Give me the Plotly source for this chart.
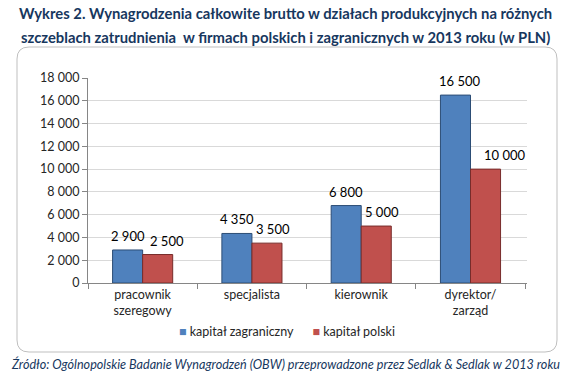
import plotly.graph_objects as go

categories = ["pracownik<br>szeregowy", "specjalista", "kierownik", "dyrektor/<br>zarząd"]
foreign = [2900, 4350, 6800, 16500]
polish = [2500, 3500, 5000, 10000]
series_names = ["kapitał zagraniczny", "kapitał polski"]
series_colors = ["#4F81BD", "#C0504D"]
title_lines = [
    "Wykres 2. Wynagrodzenia całkowite brutto w działach produkcyjnych na różnych",
    "szczeblach zatrudnienia  w firmach polskich i zagranicznych w 2013 roku (w PLN)",
]
source = "Źródło: Ogólnopolskie Badanie Wynagrodzeń (OBW) przeprowadzone przez Sedlak & Sedlak w 2013 roku"

def fmt(v):
    return f"{v:,}".replace(",", " ")

W, H = 570, 372
L, R, T, B = 88, 43, 78, 89
pw, ph = W - L - R, H - T - B

def px(x):
    return (x - L) / pw

def py(y):
    return (H - B - y) / ph

fig = go.Figure()
for name, vals, col, edge in [(series_names[0], foreign, series_colors[0], "#2C4D75"),
                              (series_names[1], polish, series_colors[1], "#772C2A")]:
    fig.add_trace(go.Bar(
        x=categories, y=vals, name=name,
        marker=dict(color=col, line=dict(color=edge, width=1)),
        showlegend=False, hoverinfo="skip",
    ))

# value labels (Excel-like placement, slightly right of red bars)
label_dx_blue = [0, 0, 0, 4]
label_dx_red = [9, 6, 6, 19]
for i, cat in enumerate(categories):
    for vals, base_dx, extra in [(foreign, -15, label_dx_blue), (polish, 15, label_dx_red)]:
        fig.add_annotation(x=cat, y=vals[i], text=fmt(vals[i]), showarrow=False,
                           xshift=base_dx + extra[i], yshift=14,
                           xanchor="center", yanchor="middle",
                           font=dict(family="Lato", size=13, color="#000000"))

# rounded chart frame
x0, x1, y0, y1 = px(17), px(557), py(352), py(47)
rx, ry = 12 / pw, 12 / ph
path = (f"M {x0+rx},{y1} L {x1-rx},{y1} Q {x1},{y1} {x1},{y1-ry} "
        f"L {x1},{y0+ry} Q {x1},{y0} {x1-rx},{y0} L {x0+rx},{y0} "
        f"Q {x0},{y0} {x0},{y0+ry} L {x0},{y1-ry} Q {x0},{y1} {x0+rx},{y1} Z")
fig.add_shape(type="path", path=path, xref="paper", yref="paper",
              line=dict(color="#BFBFBF", width=1), layer="below")

for text, ypix in [(title_lines[0], 13), (title_lines[1], 37)]:
    fig.add_annotation(text=f"<b>{text}</b>", xref="paper", yref="paper",
                       x=px(W / 2), y=py(ypix), xanchor="center", yanchor="middle",
                       showarrow=False, font=dict(family="Lato", size=14.8, color="#17375E"))
fig.add_annotation(text=f"<i>{source}</i>", xref="paper", yref="paper",
                   x=px(W / 2), y=py(364), xanchor="center", yanchor="middle",
                   showarrow=False, font=dict(family="Lato", size=12.6, color="#17375E"))

# legend drawn as text entries
legend_html = (f"<span style='color:{series_colors[0]}'>■</span> {series_names[0]}"
               f"      <span style='color:{series_colors[1]}'>■</span> {series_names[1]}")
fig.add_annotation(text=legend_html, xref="paper", yref="paper",
                   x=px(287), y=py(331), xanchor="center", yanchor="middle",
                   showarrow=False, font=dict(family="Lato", size=12.5, color="#262626"))

fig.update_layout(
    width=W, height=H,
    margin=dict(l=L, r=R, t=T, b=B, autoexpand=False),
    paper_bgcolor="white", plot_bgcolor="white",
    barmode="group", bargap=0.45, bargroupgap=0,
    font=dict(family="Lato", size=12, color="#262626"),
    showlegend=False,
)
fig.update_yaxes(range=[0, 18000], showline=True, linecolor="#868686",
                 ticks="outside", ticklen=5, tickcolor="#868686",
                 gridcolor="#D9D9D9", zeroline=False,
                 tickvals=list(range(0, 18001, 2000)),
                 ticktext=[fmt(v) for v in range(0, 18001, 2000)],
                 tickfont=dict(size=12.5, color="#262626"))
fig.update_xaxes(showline=True, linecolor="#868686", ticks="outside", ticklen=5,
                 tickcolor="#868686", tickson="boundaries",
                 tickfont=dict(size=12.5, color="#262626"))

fig.write_html("out.html", config={"displayModeBar": False},
               post_script="document.body.style.margin='0';document.body.style.padding='0';")
